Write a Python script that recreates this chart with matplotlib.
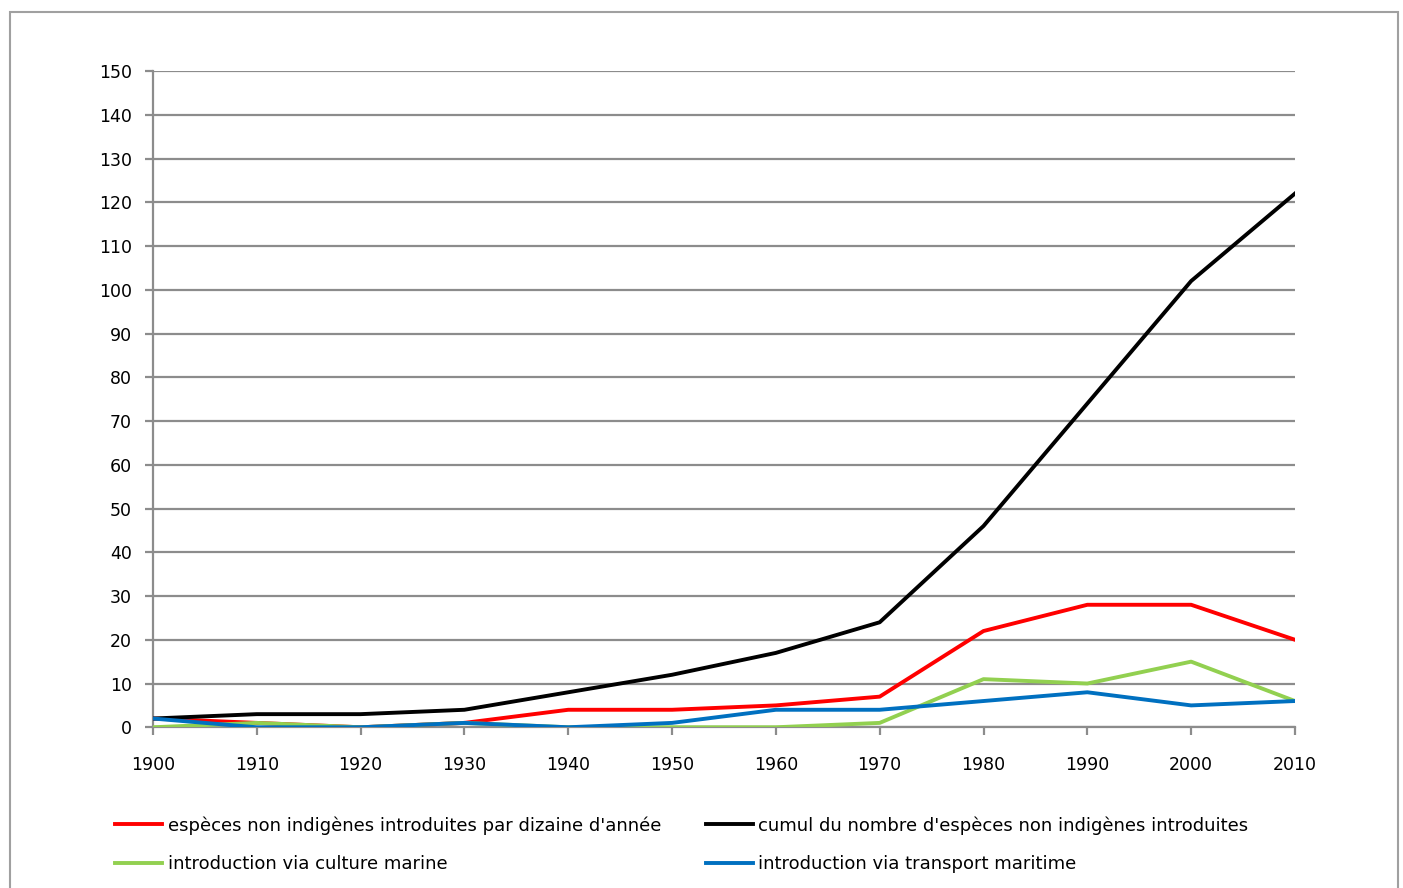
import matplotlib.pyplot as plt
from matplotlib.patches import Rectangle

# Decades and introduced species counts
years = [1900, 1910, 1920, 1930, 1940, 1950, 1960, 1970, 1980, 1990, 2000, 2010]
par_decennie = [2, 1, 0, 1, 4, 4, 5, 7, 22, 28, 28, 20]
cumul = [2, 3, 3, 4, 8, 12, 17, 24, 46, 74, 102, 122]
culture_marine = [0, 1, 0, 1, 0, 0, 0, 1, 11, 10, 15, 6]
transport_maritime = [2, 0, 0, 1, 0, 1, 4, 4, 6, 8, 5, 6]

labels = [
    "espèces non indigènes introduites par dizaine d'année",
    "cumul du nombre d'espèces non indigènes introduites",
    "introduction via culture marine",
    "introduction via transport maritime",
]

fig = plt.figure(figsize=(14.03, 8.88), dpi=100)
ax = fig.add_axes([0.109, 0.181, 0.814, 0.739])

# outer chart border
fig.patches.append(Rectangle((10 / 1403, -0.01), 1388 / 1403, 1 - 12 / 888 + 0.01,
                             transform=fig.transFigure, fill=False,
                             edgecolor="#a0a0a0", linewidth=1.5))

lw = 2.8
l1, = ax.plot(years, par_decennie, color="#ff0000", lw=lw, zorder=3)
l2, = ax.plot(years, cumul, color="#000000", lw=lw, zorder=3)
l3, = ax.plot(years, culture_marine, color="#92d050", lw=lw, zorder=3)
l4, = ax.plot(years, transport_maritime, color="#0070c0", lw=lw, zorder=3)

ax.set_xlim(1900, 2010)
ax.set_ylim(0, 150)
ax.set_xticks(years)
ax.set_yticks(range(0, 151, 10))
ax.grid(axis="y", color="#8c8c8c", lw=1.6)
ax.set_axisbelow(True)

for s in ["top", "right"]:
    ax.spines[s].set_visible(False)
ax.spines["left"].set_color("#8c8c8c")
ax.spines["bottom"].set_color("#8c8c8c")
ax.spines["left"].set_linewidth(1.6)
ax.spines["bottom"].set_linewidth(1.6)
ax.tick_params(axis="both", colors="#8c8c8c", width=1.6, length=6,
               labelcolor="#000000", labelsize=12.5)
ax.tick_params(axis="x", pad=15)
ax.tick_params(axis="y", pad=9)

# legend in two columns: red/black on top, green/blue below
fig.legend([l1, l3, l2, l4], [labels[0], labels[2], labels[1], labels[3]],
           ncol=2, loc="upper left", bbox_to_anchor=(0.077, 0.089),
           frameon=False, fontsize=13, handlelength=2.6, handletextpad=0.3,
           columnspacing=2.5, labelspacing=1.15, borderaxespad=0)

fig.savefig("out.png", dpi=100)
